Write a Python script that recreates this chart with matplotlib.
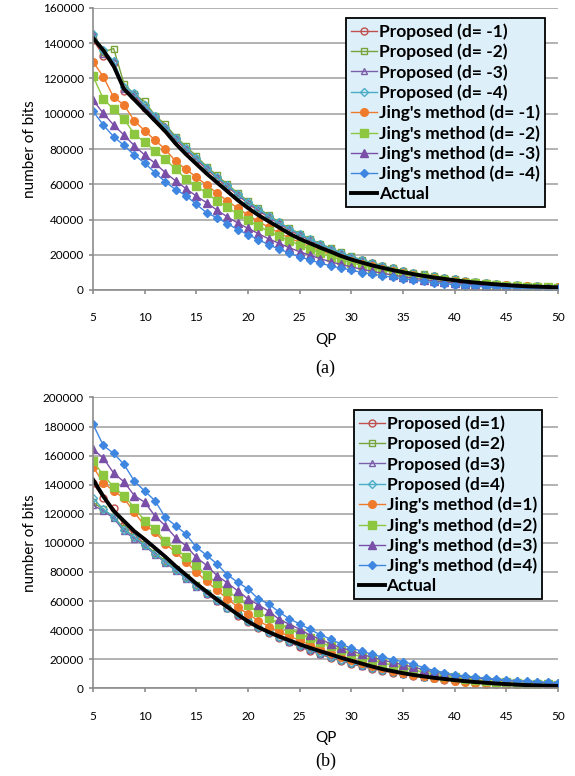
import numpy as np
import matplotlib
matplotlib.use('Agg')
import matplotlib.pyplot as plt

plt.rcParams['font.family'] = ['Lato', 'DejaVu Sans']

qp = list(range(5, 51))

# number of bits, in thousands
actual_a = [143, 136, 127, 114, 108, 102, 96, 90, 83, 77,
            71.5, 66, 61, 56, 51, 46.5, 42.5, 39, 35.5, 32,
            29, 26.5, 24, 21.7, 19.3, 17.3, 15.6, 14, 12.6, 11.3,
            10.1, 9, 8, 7.1, 6.3, 5.5, 4.8, 4.2, 3.7, 3.2,
            2.8, 2.4, 2.1, 1.9, 1.7, 1.5]
actual_b = [143.6, 132, 122, 115, 108, 102.5, 96.5, 90.5, 84, 78,
            72, 66.5, 61, 56, 50.8, 46, 42, 38.7, 35.7, 33,
            30.3, 27.8, 25.5, 23.3, 21, 19, 17, 15, 13.2, 11.8,
            10.4, 9.2, 8.2, 7.2, 6.4, 5.6, 4.9, 4.3, 3.8, 3.3,
            2.9, 2.5, 2.2, 2, 1.8, 1.6]

# (a) d = -1 .. -4
prop_a1 = [142, 133, 129, 113, 110, 103, 98, 92, 85.5, 79.5,
           74, 68.5, 63.5, 58.5, 54, 49, 45, 41.3, 37.7, 34,
           31, 28.3, 25.6, 23.2, 20.7, 18.6, 16.8, 15.1, 13.6, 12.2,
           10.9, 9.7, 8.7, 7.7, 6.8, 6, 5.2, 4.6, 4, 3.5,
           3, 2.6, 2.3, 2.1, 1.9, 1.9]
prop_a2 = [144, 135, 137, 117, 111, 107, 99, 94, 87, 81.5,
           76, 70, 65, 60, 55, 50.5, 46.5, 42.5, 38.5, 35,
           32, 29, 26.3, 23.8, 21.3, 19.1, 17.2, 15.5, 13.9, 12.4,
           11, 9.8, 8.8, 7.8, 6.9, 6.1, 5.3, 4.6, 4, 3.5,
           3.1, 2.7, 2.4, 2.1, 1.9, 1.8]
prop_a3 = [146, 134, 130, 114, 111, 104, 98, 93, 86, 80,
           74.5, 69, 64, 59, 54, 49.5, 45.5, 41.5, 38, 34.5,
           31.5, 28.5, 25.8, 23.3, 20.8, 18.7, 16.8, 15.1, 13.6, 12.1,
           10.8, 9.6, 8.6, 7.6, 6.7, 5.9, 5.2, 4.5, 3.9, 3.4,
           3, 2.6, 2.3, 2, 1.8, 1.7]
prop_a4 = [145, 136, 130, 115, 112, 105, 99, 92, 86.5, 80.5,
           75, 69.5, 64, 59.5, 54.5, 50, 46, 42, 38.3, 34.8,
           31.7, 28.8, 26, 23.5, 21, 18.9, 17, 15.3, 13.7, 12.2,
           10.9, 9.7, 8.7, 7.7, 6.8, 6, 5.2, 4.6, 4, 3.5,
           3, 2.6, 2.3, 2, 1.8, 1.7]
jing_a1 = [129.5, 121, 109.3, 105, 96, 90.4, 85, 79.8, 73, 68.5,
           64, 59.5, 55, 50.5, 46.5, 42.5, 39, 35.5, 32.5, 29.5,
           27, 24.5, 22.3, 20.2, 18.2, 16.5, 14.9, 13.4, 12, 10.7,
           9.5, 8.5, 7.5, 6.7, 5.9, 5.2, 4.6, 4, 3.5, 3.1,
           2.7, 2.4, 2.1, 1.9, 1.7, 1.6]
jing_a2 = [121.4, 108.4, 102.5, 97, 88.5, 83.8, 79, 74.1, 68.6, 62.9,
           59, 55, 50.5, 47, 43, 39.5, 36.3, 33.3, 30.5, 28,
           25.5, 23.2, 21, 19, 17.2, 15.5, 14, 12.6, 11.3, 10.1,
           9, 8, 7.1, 6.3, 5.5, 4.8, 4.2, 3.7, 3.2, 2.8,
           2.4, 2.1, 1.9, 1.7, 1.5, 1.4]
jing_a3 = [107.8, 100.2, 93.6, 87.9, 81.9, 76.6, 71.9, 66.6, 61.9, 57.5,
           53.3, 49.5, 45.3, 41.5, 38, 35, 32, 29, 26.5, 24,
           21.7, 19.7, 17.8, 16, 14.5, 13.1, 11.8, 10.6, 9.5, 8.5,
           7.6, 6.7, 5.9, 5.2, 4.5, 3.9, 3.4, 2.9, 2.5, 2.1,
           1.8, 1.6, 1.4, 1.2, 1.1, 1]
jing_a4 = [101.5, 93.6, 87, 82, 76.6, 72, 66.6, 61.3, 57, 53.5,
           48.6, 43.8, 41, 37.7, 34.3, 31.4, 28.6, 25.7, 23.2, 21,
           18.7, 17.1, 15.2, 13.7, 12.4, 11.4, 9.9, 9, 8.1, 7.2,
           6.4, 5.6, 4.9, 4.2, 3.6, 3, 2.5, 2.1, 1.8, 1.5,
           1.3, 1.1, 1, 0.9, 0.8, 0.7]

# (b) d = 1 .. 4
prop_b1 = [141, 131, 124, 112, 106, 99, 93, 87, 81.5, 76,
           70.5, 65, 60, 55, 50, 45.5, 41.5, 38, 34.5, 31.5,
           28.5, 25.8, 23.3, 21, 18.8, 16.8, 15, 13.5, 12, 10.8,
           9.6, 8.6, 7.6, 6.8, 6, 5.3, 4.7, 4.2, 3.7, 3.3,
           2.9, 2.6, 2.3, 2.1, 1.9, 1.8]
prop_b2 = [128, 123, 118, 110, 104, 99, 93, 87.5, 82, 76.5,
           71, 65.5, 60.5, 55.5, 51, 46.5, 42.5, 39, 35.5, 32.5,
           29.5, 26.8, 24.2, 21.8, 19.6, 17.6, 15.8, 14.2, 12.7, 11.4,
           10.2, 9.1, 8.1, 7.2, 6.4, 5.7, 5.1, 4.6, 4.1, 3.7,
           3.3, 3, 2.7, 2.5, 2.3, 2.2]
prop_b3 = [126, 122, 117, 108, 103, 98, 92, 86.5, 81, 75.5,
           70, 65, 60, 55, 50.5, 46, 42, 38.5, 35, 32,
           29, 26.3, 23.8, 21.5, 19.3, 17.3, 15.5, 13.9, 12.5, 11.2,
           10, 8.9, 8, 7.1, 6.3, 5.6, 5, 4.5, 4, 3.6,
           3.2, 2.9, 2.6, 2.4, 2.2, 2.1]
prop_b4 = [131, 123, 118, 109, 104, 98.5, 92.5, 87, 81.5, 76,
           70.5, 65.5, 60.5, 55.5, 51, 46.5, 42.5, 39, 35.5, 32.5,
           29.5, 26.7, 24.1, 21.7, 19.5, 17.5, 15.7, 14.1, 12.6, 11.3,
           10.1, 9, 8, 7.2, 6.4, 5.7, 5.1, 4.5, 4, 3.6,
           3.2, 2.9, 2.6, 2.4, 2.2, 2.1]
jing_b1 = [152.3, 141.4, 135.7, 130.7, 121, 111.8, 107.7, 99.3, 93.6, 87,
           80, 73.5, 67.5, 61.5, 56, 51, 46.5, 42.5, 39, 35.8,
           33, 30, 27, 24.3, 21.8, 19.5, 17.4, 15.5, 13.8, 12.2,
           10.7, 9.4, 8.2, 7.1, 6.1, 5.2, 4.5, 3.8, 3.3, 2.8,
           2.4, 2.1, 1.8, 1.6, 1.4, 1.3]
jing_b2 = [156.6, 146.4, 138.6, 132.3, 124.3, 115.2, 109.5, 101, 96, 90.2,
           84.5, 77.7, 72.5, 67, 62, 57, 52.5, 48.5, 44.5, 41,
           37.5, 34.5, 31.5, 28.8, 26.2, 23.8, 21.6, 19.5, 17.6, 15.8,
           14.1, 12.5, 11.1, 9.8, 8.6, 7.5, 6.6, 5.8, 5.1, 4.5,
           4, 3.6, 3.3, 3, 2.8, 2.6]
jing_b3 = [164.5, 158.3, 148, 142, 132.5, 128, 118.5, 111.8, 103.5, 98,
           90, 84.5, 77.5, 72.5, 67, 61.5, 57.5, 53, 47.5, 44,
           40.7, 36.5, 33.8, 30.5, 28, 25.8, 23.5, 21.3, 19.5, 17.8,
           16.2, 14.6, 12.8, 11.2, 9.9, 8.6, 7.8, 7, 6.4, 5.8,
           5.3, 4.8, 4.4, 4.1, 3.8, 3.5]
jing_b4 = [181.6, 167, 161.5, 154, 142.5, 135.7, 129, 117.5, 111.8, 106,
           97, 91.5, 85.5, 78, 73, 68.3, 61.5, 58, 52.5, 47.8,
           44.3, 40.5, 36.8, 33.8, 30.5, 27.5, 25.6, 23.4, 21.5, 19.8,
           18.3, 16.5, 14.3, 12.2, 10.8, 9.2, 8.4, 7.6, 6.9, 6.3,
           5.8, 5.3, 4.9, 4.5, 4.2, 3.9]

prop_colors = ['#c0504d', '#77a33a', '#7b5ea7', '#4bacc6']
prop_markers = ['o', 's', '^', 'D']
jing_colors = ['#f07a2c', '#8dc63f', '#7a4fa8', '#3f86e0']
jing_markers = ['o', 's', '^', 'D']


def draw_panel(ax, props, jings, actual, d_vals, ymax, ystep, legend_anchor, tag):
    for i, vals in enumerate(props):
        ax.plot(qp, np.array(vals) * 1000, color=prop_colors[i], lw=1.0,
                marker=prop_markers[i], ms=5 if prop_markers[i] != 'D' else 4,
                mfc='none', mec=prop_colors[i], mew=1.0,
                label=f'Proposed (d={d_vals[i]})')
    for i, vals in enumerate(jings):
        ax.plot(qp, np.array(vals) * 1000, color=jing_colors[i], lw=1.0,
                marker=jing_markers[i], ms=5.5 if jing_markers[i] != 'D' else 4.5,
                mfc=jing_colors[i], mec=jing_colors[i],
                label=f"Jing's method (d={d_vals[i]})")
    ax.plot(qp, np.array(actual) * 1000, color='black', lw=2.8, label='Actual')

    ax.set_xlim(5, 50)
    ax.set_ylim(0, ymax)
    ax.set_xticks(range(5, 51, 5))
    ax.set_yticks(range(0, ymax + 1, ystep))
    ax.yaxis.grid(True, color='#a6a6a6', lw=1.2)
    ax.set_axisbelow(True)
    for s in ['top', 'right']:
        ax.spines[s].set_visible(False)
    for s in ['left', 'bottom']:
        ax.spines[s].set_color('#8c8c8c')
        ax.spines[s].set_linewidth(1.2)
    ax.tick_params(axis='both', colors='#8c8c8c', length=3, width=1.2, labelsize=8.5,
                   labelcolor='black')
    ax.tick_params(axis='x', pad=13)
    ax.set_ylabel('number of bits', fontsize=11)
    ax.set_xlabel('QP', fontsize=11, labelpad=7)

    leg = ax.legend(loc='upper right', bbox_to_anchor=legend_anchor, borderaxespad=0,
                    fancybox=False, framealpha=1, facecolor='#ddf0fa', edgecolor='black',
                    prop={'weight': 'bold', 'size': 12.5}, handlelength=1.5,
                    handletextpad=0.1, labelspacing=0.22, borderpad=0.3)
    leg.get_frame().set_linewidth(1.3)
    ax.text(0.5, tag[1], tag[0], transform=ax.transAxes, ha='center', va='center',
            fontsize=13, family='Liberation Serif')


fig = plt.figure(figsize=(5.75, 7.76), dpi=100)
ax_a = fig.add_axes([93 / 575, 1 - 290 / 776, 465 / 575, 282 / 776])
ax_b = fig.add_axes([93 / 575, 1 - 688.3 / 776, 465 / 575, 290.8 / 776])

draw_panel(ax_a, [prop_a1, prop_a2, prop_a3, prop_a4], [jing_a1, jing_a2, jing_a3, jing_a4],
           actual_a, [' -1', ' -2', ' -3', ' -4'], 160000, 20000, (0.972, 0.9645),
           ('(a)', -0.277))
draw_panel(ax_b, [prop_b1, prop_b2, prop_b3, prop_b4], [jing_b1, jing_b2, jing_b3, jing_b4],
           actual_b, ['1', '2', '3', '4'], 200000, 20000, (0.9656, 0.957),
           ('(b)', -0.252))

fig.savefig('out.png', dpi=100)
